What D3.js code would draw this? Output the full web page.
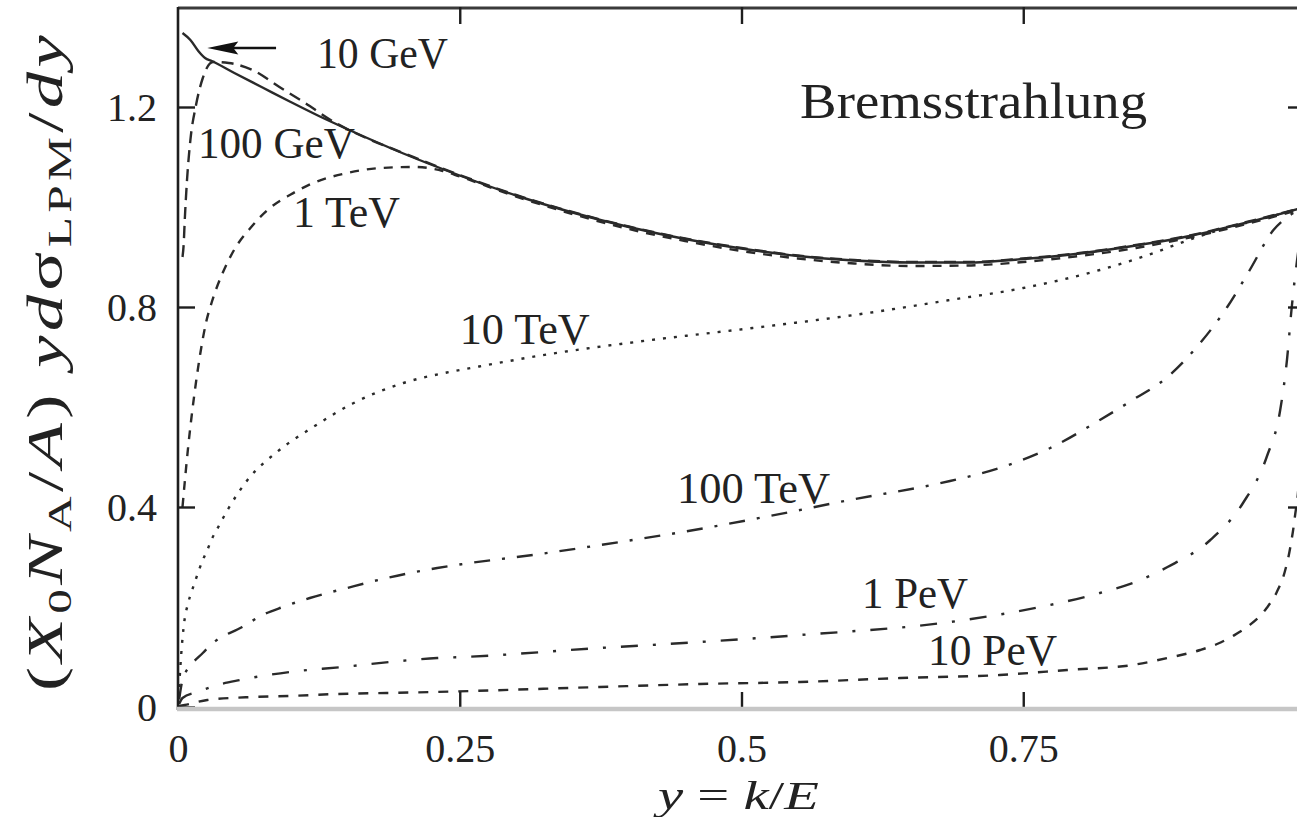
<!DOCTYPE html>
<html>
<head>
<meta charset="utf-8">
<script src="https://cdn.jsdelivr.net/npm/d3@7"></script>
<style>
  html, body { margin: 0; padding: 0; background: #fff; }
  svg { display: block; }
  text { font-family: "Liberation Serif", "DejaVu Serif", serif; fill: #222; }
</style>
</head>
<body>
<svg id="chart" width="1297" height="817"></svg>
<script>
// ---------------- data ----------------
const xTicks = [0, 0.25, 0.5, 0.75, 1];
const xTickLabels = ["0", "0.25", "0.5", "0.75", "1"];
const yTicks = [0, 0.4, 0.8, 1.2];
const yTickLabels = ["0", "0.4", "0.8", "1.2"];

const energies = ["10 GeV", "100 GeV", "1 TeV", "10 TeV", "100 TeV", "1 PeV", "10 PeV"];

const gev10_x = [0.004,0.011,0.018,0.024,0.03,0.05,0.075,0.1,0.125,0.15,0.2,0.25,0.3,0.35,0.4,0.45,0.5,0.55,0.6,0.65,0.7,0.75,0.8,0.85,0.9,0.95,1.0];
const gev10_v = [1.348,1.334,1.312,1.298,1.292,1.268,1.239,1.21,1.182,1.156,1.107,1.063,1.023,0.989,0.96,0.936,0.917,0.902,0.893,0.889,0.889,0.896,0.907,0.923,0.943,0.97,1.0];

const gev100_x = [0.004,0.005,0.006,0.008,0.011,0.016,0.022,0.031,0.045,0.066,0.09,0.11,0.14,0.17,0.2,0.25,0.3,0.35,0.4,0.45,0.5,0.55,0.6,0.65,0.7,0.75,0.8,0.85,0.9,0.95,1.0];
const gev100_v = [0.90,0.924,0.974,1.054,1.134,1.204,1.258,1.29,1.288,1.274,1.24,1.212,1.168,1.135,1.108,1.064,1.024,0.99,0.961,0.937,0.918,0.903,0.894,0.89,0.89,0.897,0.908,0.924,0.944,0.971,1.0];

const tev1_x = [0.004,0.006,0.009,0.012,0.016,0.02,0.025,0.03,0.04,0.05,0.065,0.08,0.1,0.12,0.15,0.18,0.21,0.235,0.25,0.3,0.35,0.4,0.45,0.5,0.55,0.6,0.65,0.7,0.75,0.8,0.85,0.9,0.95,1.0];
const tev1_v = [0.40,0.45,0.52,0.58,0.65,0.71,0.77,0.81,0.87,0.915,0.96,0.995,1.025,1.048,1.068,1.078,1.08,1.072,1.061,1.021,0.986,0.956,0.932,0.912,0.897,0.887,0.882,0.883,0.89,0.902,0.918,0.94,0.967,0.998];

const tev10_x = [0.001,0.003,0.005,0.009,0.012,0.015,0.018,0.022,0.026,0.03,0.035,0.04,0.045,0.061,0.09,0.12,0.155,0.2,0.241,0.26,0.33,0.42,0.51,0.6,0.685,0.75,0.818,0.862,0.898,0.93,0.96,1.0];
const tev10_v = [0.04,0.11,0.16,0.208,0.23,0.25,0.27,0.294,0.314,0.336,0.357,0.378,0.398,0.452,0.514,0.56,0.607,0.648,0.67,0.678,0.706,0.734,0.758,0.784,0.814,0.838,0.874,0.905,0.935,0.958,0.975,1.0];

const tev100_x = [0.001,0.004,0.012,0.022,0.031,0.057,0.075,0.093,0.117,0.15,0.185,0.23,0.253,0.321,0.392,0.463,0.525,0.596,0.685,0.729,0.774,0.818,0.847,0.878,0.907,0.931,0.951,0.972,0.987,1.0];
const tev100_v = [0.015,0.054,0.085,0.108,0.128,0.16,0.184,0.2,0.218,0.238,0.258,0.278,0.286,0.306,0.33,0.356,0.382,0.414,0.452,0.478,0.518,0.574,0.614,0.66,0.728,0.80,0.874,0.954,0.984,1.0];

const pev1_x = [0.001,0.004,0.017,0.035,0.055,0.099,0.146,0.188,0.23,0.253,0.374,0.463,0.552,0.685,0.765,0.818,0.854,0.878,0.916,0.945,0.966,0.978,0.984,0.988,0.993,1.0];
const pev1_v = [0.006,0.018,0.03,0.044,0.054,0.07,0.08,0.09,0.098,0.10,0.118,0.13,0.144,0.17,0.20,0.228,0.254,0.28,0.334,0.408,0.50,0.594,0.694,0.794,0.894,0.994];

const pev10_x = [0.001,0.006,0.026,0.067,0.099,0.141,0.185,0.226,0.374,0.463,0.552,0.641,0.729,0.789,0.847,0.878,0.907,0.922,0.936,0.951,0.966,0.975,0.982,0.987,0.991,0.995,1.0];
const pev10_v = [0.002,0.004,0.014,0.02,0.022,0.026,0.028,0.03,0.04,0.046,0.05,0.058,0.064,0.074,0.084,0.098,0.114,0.126,0.142,0.164,0.198,0.23,0.27,0.32,0.38,0.47,1.0];

// label anchors (data coordinates: left edge, baseline)
const labelX = [0.1233, 0.0177, 0.102, 0.250, 0.4428, 0.607, 0.6655];
const labelY = [1.278, 1.098, 0.96, 0.726, 0.408, 0.198, 0.084];
const titleText = "Bremsstrahlung";

// ---------------- styles ----------------
const W = 1297, H = 817;
const plot = { left: 178, right: 1305, top: 7, bottom: 707 };
const lineColor = "#2a2a2a";
const dashes = ["", "12,7", "9,8", "3,8", "16,12,3,12", "17,15,3,15", "10,10"];
const labelWidths = [131, 157, 107, 130, 153, 106, 129];

const svg = d3.select("#chart");
const x = d3.scaleLinear().domain([0, 1]).range([plot.left, plot.right]);
const y = d3.scaleLinear().domain([0, 1.4]).range([plot.bottom, plot.top]);

svg.append("defs").append("clipPath").attr("id", "clip")
  .append("rect")
  .attr("x", x(0)).attr("y", y(1.4))
  .attr("width", x(1) - x(0)).attr("height", y(0) - y(1.4));

// ---------------- curves ----------------
const seriesX = [gev10_x, gev100_x, tev1_x, tev10_x, tev100_x, pev1_x, pev10_x];
const seriesV = [gev10_v, gev100_v, tev1_v, tev10_v, tev100_v, pev1_v, pev10_v];

const line = d3.line()
  .x(d => x(d[0]))
  .y(d => y(d[1]))
  .curve(d3.curveMonotoneX);

const gCurves = svg.append("g").attr("clip-path", "url(#clip)");
energies.forEach((name, i) => {
  const pts = seriesX[i].map((xv, j) => [xv, seriesV[i][j]]);
  gCurves.append("path")
    .datum(pts)
    .attr("d", line)
    .attr("fill", "none")
    .attr("stroke", lineColor)
    .attr("stroke-width", 2.4)
    .attr("stroke-dasharray", dashes[i] || null);
});

// ---------------- frame & axes ----------------
svg.append("line")
  .attr("x1", x(0)).attr("x2", x(1)).attr("y1", y(1.4) + 1).attr("y2", y(1.4) + 1)
  .attr("stroke", "#3a3a3a").attr("stroke-width", 3);
svg.append("line")
  .attr("x1", x(0)).attr("x2", x(0)).attr("y1", y(1.4)).attr("y2", y(0) + 3)
  .attr("stroke", "#1e1e1e").attr("stroke-width", 2.6);

const yAxis = d3.axisLeft(y).tickValues(yTicks).tickSize(-17).tickPadding(21)
  .tickFormat((d, i) => yTickLabels[i]);
const gy = svg.append("g").attr("transform", `translate(${x(0)},0)`).call(yAxis);
gy.select(".domain").remove();
gy.selectAll(".tick line").attr("stroke", "#1e1e1e").attr("stroke-width", 2.4);
gy.selectAll(".tick text").attr("font-size", 40).attr("fill", "#222")
  .attr("font-family", "Liberation Serif").attr("dy", "0.34em");

const xAxis = d3.axisBottom(x).tickValues(xTicks).tickSize(-15).tickPadding(27)
  .tickFormat((d, i) => xTickLabels[i]);
const gx = svg.append("g").attr("transform", `translate(0,${y(0)})`).call(xAxis);
gx.select(".domain").remove();
gx.selectAll(".tick line").attr("stroke", "#1e1e1e").attr("stroke-width", 2.4)
  .filter(d => d === 0 || d === 1).remove();
gx.selectAll(".tick text").attr("font-size", 40).attr("fill", "#222")
  .attr("font-family", "Liberation Serif");

const topAxis = d3.axisTop(x).tickValues([0.25, 0.5, 0.75]).tickSize(-17).tickFormat("");
const gt = svg.append("g").attr("transform", `translate(0,${y(1.4)})`).call(topAxis);
gt.select(".domain").remove();
gt.selectAll(".tick line").attr("stroke", "#1e1e1e").attr("stroke-width", 2.4);

const rightAxis = d3.axisRight(y).tickValues([0.4, 0.8, 1.2]).tickSize(-17).tickFormat("");
const gr = svg.append("g").attr("transform", `translate(${x(1)},0)`).call(rightAxis);
gr.select(".domain").remove();
gr.selectAll(".tick line").attr("stroke", "#1e1e1e").attr("stroke-width", 2.4);

svg.append("line")
  .attr("x1", x(0) - 1).attr("x2", x(1)).attr("y1", y(0) + 2).attr("y2", y(0) + 2)
  .attr("stroke", "#c6c6c6").attr("stroke-width", 4.5);

// ---------------- labels ----------------
energies.forEach((name, i) => {
  svg.append("text")
    .attr("x", x(labelX[i])).attr("y", y(labelY[i]))
    .attr("font-size", 45)
    .attr("textLength", labelWidths[i])
    .attr("lengthAdjust", "spacingAndGlyphs")
    .text(name);
});

svg.append("text")
  .attr("x", x(0.552)).attr("y", y(1.178))
  .attr("font-size", 50)
  .attr("textLength", 347)
  .attr("lengthAdjust", "spacingAndGlyphs")
  .text(titleText);

const arrowFrom = [0.087, 1.318], arrowTo = [0.026, 1.318];
svg.append("line")
  .attr("x1", x(arrowFrom[0])).attr("y1", y(arrowFrom[1]))
  .attr("x2", x(arrowTo[0]) + 20).attr("y2", y(arrowTo[1]))
  .attr("stroke", "#111").attr("stroke-width", 2.4);
{
  const tx = x(arrowTo[0]), ty = y(arrowTo[1]);
  svg.append("path")
    .attr("d", `M${tx},${ty} L${tx + 31},${ty - 6.5} L${tx + 26},${ty} L${tx + 31},${ty + 6.5} Z`)
    .attr("fill", "#111");
}

// ---------------- axis titles ----------------
const xt = svg.append("text")
  .attr("x", 658).attr("y", 809)
  .attr("font-size", 41)
  .attr("textLength", 161)
  .attr("lengthAdjust", "spacingAndGlyphs");
xt.append("tspan").attr("font-style", "italic").text("y");
xt.append("tspan").text(" = ");
xt.append("tspan").attr("font-style", "italic").text("k");
xt.append("tspan").text("/");
xt.append("tspan").attr("font-style", "italic").text("E");

const yt = svg.append("text")
  .attr("transform", "translate(62,361) rotate(-90)")
  .attr("text-anchor", "middle")
  .attr("font-size", 50)
  .attr("letter-spacing", 3)
  .attr("textLength", 660)
  .attr("lengthAdjust", "spacingAndGlyphs");
yt.append("tspan").text("(");
yt.append("tspan").attr("font-style", "italic").text("X");
yt.append("tspan").attr("font-size", 34).attr("dy", 9).text("0");
yt.append("tspan").attr("font-style", "italic").attr("dy", -9).text("N");
yt.append("tspan").attr("font-size", 34).attr("dy", 9).text("A");
yt.append("tspan").attr("dy", -9).text("/");
yt.append("tspan").attr("font-style", "italic").text("A");
yt.append("tspan").text(") ");
yt.append("tspan").attr("font-style", "italic").text("yd");
yt.append("tspan").text("σ");
yt.append("tspan").attr("font-size", 34).attr("dy", 9).text("LPM");
yt.append("tspan").attr("dy", -9).text("/");
yt.append("tspan").attr("font-style", "italic").text("dy");
</script>
</body>
</html>
